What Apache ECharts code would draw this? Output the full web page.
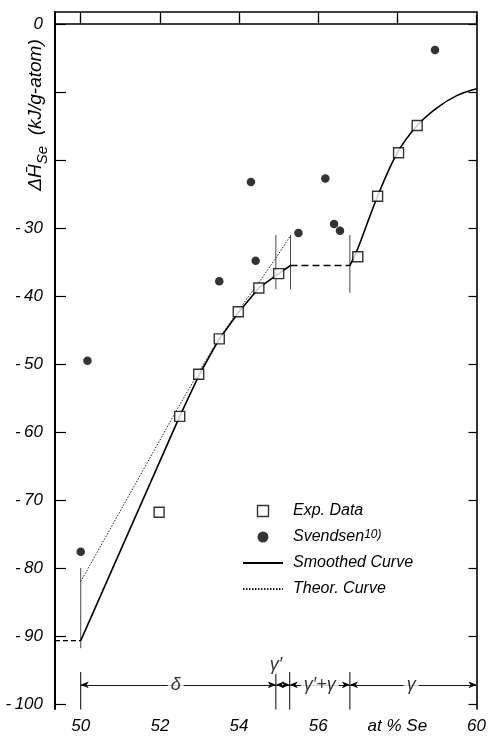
<!DOCTYPE html>
<html><head><meta charset="utf-8">
<script src="https://cdn.jsdelivr.net/npm/echarts@6/dist/echarts.min.js"></script>
<style>html,body{margin:0;padding:0;background:#fff}#c{width:489px;height:737px}</style>
</head><body><div id="c"></div>
<script>
// ---- data ----
const expX = [51.98, 52.5, 52.98, 53.5, 53.98, 54.5, 55.0, 57.0, 57.5, 58.03, 58.5];
const expY = [-71.8, -57.7, -51.5, -46.3, -42.3, -38.8, -36.7, -34.2, -25.3, -18.9, -14.9];

const svX = [50.0, 50.17, 53.5, 54.3, 54.42, 55.5, 56.18, 56.4, 56.55, 58.95];
const svY = [-77.6, -49.5, -37.8, -23.2, -34.8, -30.7, -22.7, -29.4, -30.4, -3.8];

const smoothAX = [50.0, 52.5, 53.0, 53.5, 54.0, 54.5, 55.0, 55.3];
const smoothAY = [-90.7, -57.7, -51.5, -46.3, -42.3, -38.8, -36.7, -35.5];
const smoothBX = [56.8, 57.0, 57.5, 58.0, 58.5, 59.0, 59.5, 60.0];
const smoothBY = [-35.5, -33.0, -25.3, -18.9, -14.9, -12.3, -10.5, -9.5];

const theorX = [50.0, 52.5, 53.0, 53.5, 54.0, 54.5, 55.0, 55.3];
const theorY = [-82.0, -56.0, -51.0, -46.2, -42.0, -38.0, -33.8, -31.1];

const plateauX = [55.3, 56.8];
const plateauY = [-35.5, -35.5];
const leftDashX = [49.35, 50.0];
const leftDashY = [-90.7, -90.7];

// thin vertical guide lines: [x, yFrom, yTo]
const guideX = [50.0, 54.93, 55.3, 56.8];
const guideTop = [-80.0, -31.0, -31.0, -31.0];
const guideBot = [-91.8, -39.0, -39.0, -39.5];

// phase-region markers
const phaseBoundX = [50.0, 54.93, 55.28, 56.8, 60.0];
const phaseLineTop = -95.3;
const phaseArrowY = -97.2;
const phaseLabelX = [52.4, 54.93, 56.04, 58.35];
const phaseLabelY = [-97.2, -94.3, -97.2, -97.2];
const phaseLabelText = ['δ', 'γ′', 'γ′+γ', 'γ'];

const xTicks = [50, 52, 54, 56, 58, 60];
const xTickLabels = ['50', '52', '54', '56', 'at % Se', '60'];
const yTicks = [0, -10, -20, -30, -40, -50, -60, -70, -80, -90, -100];
const yLabelValues = [0, -30, -40, -50, -60, -70, -80, -90, -100];

// ---- build ----
const zip = (a, b) => a.map((v, i) => [v, b[i]]);
const FONT = 'Liberation Sans';
const baseLabel = {fontFamily: FONT, fontStyle: 'italic', fontSize: 17, color: '#000'};

const series = [];
series.push({
  name: 'Exp. Data', type: 'scatter', data: zip(expX, expY), symbol: 'rect', symbolSize: 10,
  itemStyle: {color: '#fff', borderColor: '#000', borderWidth: 1.4}, z: 6
});
series.push({
  name: 'Svendsen', type: 'scatter', data: zip(svX, svY), symbol: 'circle', symbolSize: 8.5,
  itemStyle: {color: '#000'}, z: 6
});
series.push({
  name: 'Smoothed Curve', type: 'line', data: zip(smoothAX, smoothAY), symbol: 'none',
  itemStyle: {color: '#000'}, lineStyle: {color: '#000', width: 1.6}, z: 4
});
series.push({
  name: 'Smoothed Curve', type: 'line', data: zip(smoothBX, smoothBY), symbol: 'none', smooth: 0.35,
  itemStyle: {color: '#000'}, lineStyle: {color: '#000', width: 1.6}, z: 4
});
series.push({
  name: 'Theor. Curve', type: 'line', data: zip(theorX, theorY), symbol: 'none',
  itemStyle: {color: '#222'}, lineStyle: {color: '#222', width: 1, type: [1.5, 1.5]}, z: 3
});
series.push({
  name: 'plateau', type: 'line', data: zip(plateauX, plateauY), symbol: 'none',
  lineStyle: {color: '#000', width: 1.6, type: [7, 4]}, z: 3
});
series.push({
  name: 'leftdash', type: 'line', data: zip(leftDashX, leftDashY), symbol: 'none',
  lineStyle: {color: '#000', width: 1.3, type: [5, 3]}, z: 3
});
guideX.forEach((x, i) => {
  series.push({
    name: 'guide' + i, type: 'line', data: [[x, guideTop[i]], [x, guideBot[i]]], symbol: 'none',
    lineStyle: {color: '#333', width: 0.9}, z: 2
  });
});
phaseBoundX.slice(0, 4).forEach((x, i) => {
  series.push({
    name: 'phase' + i, type: 'line', data: [[x, phaseLineTop], [x, -101]], symbol: 'none',
    lineStyle: {color: '#000', width: 1}, z: 2
  });
});
const arrowData = [];
for (let i = 0; i < phaseBoundX.length - 1; i++) {
  arrowData.push([{coord: [phaseBoundX[i], phaseArrowY]}, {coord: [phaseBoundX[i + 1], phaseArrowY]}]);
}
series.push({
  name: 'arrows', type: 'line', data: [[50, phaseArrowY]], symbol: 'none', lineStyle: {width: 0},
  markLine: {
    silent: true, animation: false, symbol: ['arrow', 'arrow'], symbolSize: [5, 8],
    lineStyle: {color: '#000', width: 0.9, type: 'solid'}, label: {show: false},
    data: arrowData
  }, z: 2
});
series.push({
  name: 'phaseLabels', type: 'scatter', symbolSize: 1, itemStyle: {color: 'rgba(0,0,0,0)'},
  data: phaseLabelX.map((x, i) => [x, phaseLabelY[i], phaseLabelText[i]]),
  label: Object.assign({show: true, position: 'inside', formatter: p => p.data[2],
    backgroundColor: '#fff', padding: [0, 3]}, baseLabel, {fontSize: 18}), z: 8
});

const hiddenSym = {color: 'rgba(0,0,0,0)', borderWidth: 0, opacity: 0};
const option = {
  animation: false,
  backgroundColor: '#fff',
  grid: {left: 55, right: 8, top: 12, bottom: 28, show: false},
  legend: {
    data: [
      {name: 'Exp. Data', icon: 'path://M0 0H10V10H0Z',
       itemStyle: {color: '#fff', borderColor: '#000', borderWidth: 1.4}},
      {name: 'Svendsen', icon: 'circle'},
      {name: 'Smoothed Curve', itemStyle: hiddenSym, lineStyle: {width: 2}},
      {name: 'Theor. Curve', itemStyle: hiddenSym}
    ],
    orient: 'vertical', left: 237, top: 498, itemWidth: 40, itemHeight: 11, itemGap: 10,
    symbolKeepAspect: true,
    formatter: n => n === 'Svendsen' ? 'Svendsen{sup|10)}' : n,
    textStyle: {fontFamily: FONT, fontStyle: 'italic', fontSize: 16, color: '#000', lineHeight: 16,
      padding: [0, 0, 0, 5],
      rich: {sup: {fontFamily: FONT, fontStyle: 'italic', fontSize: 12, verticalAlign: 'top', lineHeight: 2, color: '#000'}}}
  },
  xAxis: [{
    type: 'value', min: 49.35, max: 60, position: 'bottom',
    axisLine: {lineStyle: {color: '#000', width: 1.6}},
    axisTick: {inside: true, length: 9, customValues: xTicks, lineStyle: {color: '#000', width: 1.2}},
    axisLabel: Object.assign({customValues: xTicks, margin: 9,
      formatter: v => xTickLabels[xTicks.indexOf(Math.round(v))] || ''}, baseLabel),
    splitLine: {show: false}
  }, {
    type: 'value', min: 49.35, max: 60, position: 'top',
    axisLine: {onZero: false, lineStyle: {color: '#000', width: 1.6}},
    axisTick: {inside: true, length: 10, customValues: [50, 52, 54, 56, 58], lineStyle: {color: '#000', width: 1.2}},
    axisLabel: {show: false}, splitLine: {show: false}
  }],
  yAxis: [{
    type: 'value', min: -100.75, max: 1.8, position: 'left',
    axisLine: {onZero: false, lineStyle: {color: '#000', width: 2}},
    axisTick: {inside: true, length: 11, customValues: yTicks, lineStyle: {color: '#000', width: 1.2}},
    axisLabel: Object.assign({customValues: yLabelValues, margin: 12,
      formatter: v => v === 0 ? '0' : '-\u2009' + Math.abs(Math.round(v))}, baseLabel),
    splitLine: {show: false}
  }, {
    type: 'value', min: -100.75, max: 1.8, position: 'right',
    axisLine: {onZero: false, lineStyle: {color: '#000', width: 1.6}},
    axisTick: {inside: true, length: 8, customValues: yTicks, lineStyle: {color: '#000', width: 1.2}},
    axisLabel: {show: false}, splitLine: {show: false}
  }],
  graphic: [{
    type: 'text', x: 36, y: 115, rotation: Math.PI / 2,
    style: {
      text: '{a|ΔH\u0304}{b|Se}{a|  (kJ/g-atom)}',
      align: 'center', verticalAlign: 'middle',
      rich: {
        a: {fontFamily: FONT, fontStyle: 'italic', fontSize: 19, lineHeight: 28, fill: '#000'},
        b: {fontFamily: FONT, fontStyle: 'italic', fontSize: 15, lineHeight: 15, verticalAlign: 'bottom', fill: '#000'}
      }
    }
  }],
  series: series
};
const chart = echarts.init(document.getElementById('c'), null, {renderer: 'canvas'});
chart.setOption(option);
</script></body></html>
